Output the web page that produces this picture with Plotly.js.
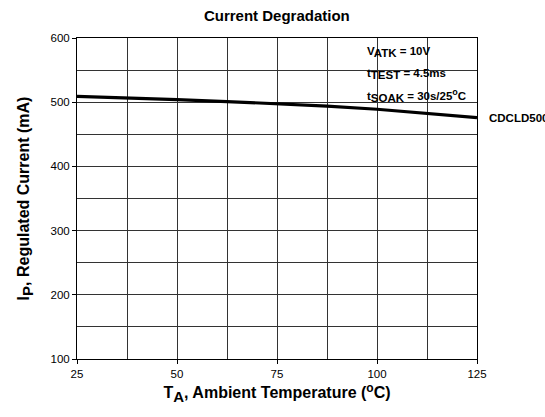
<!DOCTYPE html>
<html><head><meta charset="utf-8">
<script src="https://cdn.plot.ly/plotly-3.0.1.min.js"></script>
<style>html,body{margin:0;padding:0;background:#fff}#chart{width:545px;height:417px}</style>
</head><body><div id="chart"></div>
<script>
const temperature = [25, 37.5, 50, 62.5, 75, 87.5, 100, 112.5, 125];
const currentCDCLD500 = [509, 507, 504, 501, 498, 494, 489, 483, 476];
const seriesName = "CDCLD500";
const xTicks = [25, 50, 75, 100, 125];
const yTicks = [100, 200, 300, 400, 500, 600];
const sub = (s, px) => `<sub><span style="font-size:${px}px;font-weight:bold">${s}</span></sub>`;
const sup = (s, px) => `<sup><span style="font-size:${px}px;font-weight:bold">${s}</span></sup>`;
const conditions = ["V" + sub("ATK", 11.5) + " = 10V", "t" + sub("TEST", 11.5) + " = 4.5ms", "t" + sub("SOAK", 11.5) + " = 30s/25" + sup("o", 9) + "C"];

const font = "Liberation Sans, Arial, sans-serif";
const trace = {
  x: temperature, y: currentCDCLD500, mode: "lines", name: seriesName,
  line: {color: "#000", width: 3.2}, showlegend: false, hoverinfo: "skip"
};
const annotations = conditions.map((t, i) => ({
  xref: "paper", yref: "paper", x: 0.72, y: 0.955 - i * 0.067,
  xanchor: "left", yanchor: "middle", text: "<b>" + t + "</b>", showarrow: false,
  font: {family: font, size: 11.5, color: "#000"}
}));
annotations.push({
  xref: "paper", yref: "y", x: 1.025, y: currentCDCLD500[currentCDCLD500.length - 1],
  xanchor: "left", yanchor: "middle", text: "<b>" + seriesName + "</b>", showarrow: false,
  font: {family: font, size: 11.5, color: "#000"}
});
const layout = {
  width: 545, height: 417,
  margin: {l: 77, r: 68, t: 38, b: 58},
  paper_bgcolor: "#fff", plot_bgcolor: "#fff",
  title: {text: "<b>Current Degradation</b>", font: {family: font, size: 15, color: "#000"}, x: 0.508, xanchor: "center", y: 0.975, yanchor: "top"},
  xaxis: {
    range: [25, 125], tickvals: xTicks, ticktext: xTicks.map(String),
    showgrid: false, zeroline: false,
    showline: true, mirror: true, linecolor: "#000", linewidth: 1,
    ticks: "outside", ticklen: 4, tickcolor: "#000",
    tickfont: {family: font, size: 11.5, color: "#000"},
    minor: {dtick: 12.5, tick0: 25, showgrid: true, gridcolor: "#333", gridwidth: 1, ticks: ""},
    title: {text: "<b>T" + sub("A", 15) + ", Ambient Temperature (" + sup("o", 12) + "C)</b>", font: {family: font, size: 16, color: "#000"}, standoff: 8}
  },
  yaxis: {
    range: [100, 600], tickvals: yTicks, ticktext: yTicks.map(String),
    showgrid: false, zeroline: false,
    showline: true, mirror: true, linecolor: "#000", linewidth: 1,
    ticks: "outside", ticklen: 4, tickcolor: "#000",
    tickfont: {family: font, size: 11.5, color: "#000"},
    minor: {dtick: 50, tick0: 100, showgrid: true, gridcolor: "#333", gridwidth: 1, ticks: ""},
    title: {text: "<b>I" + sub("P", 15) + ", Regulated Current (mA)</b>", font: {family: font, size: 16, color: "#000"}, standoff: 16}
  },
  shapes: [{type: "rect", xref: "x", yref: "y", x0: 95.8, x1: 124.7, y0: 495.5, y1: 599.5, fillcolor: "#fff", line: {width: 0}, layer: "below"}],
  annotations: annotations
};
Plotly.newPlot("chart", [trace], layout, {displayModeBar: false, staticPlot: true});
</script></body></html>
